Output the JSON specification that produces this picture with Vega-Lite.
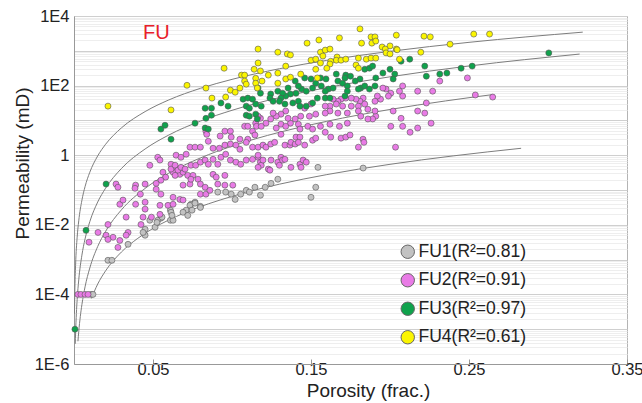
{
  "$schema": "https://vega.github.io/schema/vega-lite/v6.json",
  "width": 553,
  "height": 348,
  "autosize": "none",
  "padding": {"left": 74, "top": 16, "right": 15, "bottom": 39},
  "background": "white",
  "config": {"font": "Liberation Sans", "view": {"stroke": "#b4b4b4", "strokeWidth": 1}},
  "title": {"text": "FU", "color": "#e8202a", "fontSize": 20, "fontWeight": "normal", "anchor": "start", "frame": "group", "baseline": "alphabetic", "offset": -31, "dx": 69, "dy": 20},
  "datasets": {
    "curves": [
      {"fu":"FU1","por":0.011,"perm":7.65e-5},{"fu":"FU1","por":0.015,"perm":1.98e-4},{"fu":"FU1","por":0.02,"perm":4.77e-4},{"fu":"FU1","por":0.03,"perm":1.65e-3},{"fu":"FU1","por":0.04,"perm":3.97e-3},{"fu":"FU1","por":0.05,"perm":7.87e-3},{"fu":"FU1","por":0.07,"perm":0.022},{"fu":"FU1","por":0.1,"perm":0.0656},{"fu":"FU1","por":0.13,"perm":0.147},{"fu":"FU1","por":0.16,"perm":0.277},{"fu":"FU1","por":0.2,"perm":0.547},{"fu":"FU1","por":0.24,"perm":0.955},{"fu":"FU1","por":0.283,"perm":1.58},
      {"fu":"FU2","por":0.0025,"perm":4.5e-6},{"fu":"FU2","por":0.003,"perm":8.51e-6},{"fu":"FU2","por":0.004,"perm":2.33e-5},{"fu":"FU2","por":0.005,"perm":5.08e-5},{"fu":"FU2","por":0.007,"perm":1.65e-4},{"fu":"FU2","por":0.01,"perm":5.75e-4},{"fu":"FU2","por":0.015,"perm":2.38e-3},{"fu":"FU2","por":0.02,"perm":6.5e-3},{"fu":"FU2","por":0.03,"perm":0.0269},{"fu":"FU2","por":0.045,"perm":0.111},{"fu":"FU2","por":0.06,"perm":0.305},{"fu":"FU2","por":0.08,"perm":0.834},{"fu":"FU2","por":0.1,"perm":1.82},{"fu":"FU2","por":0.13,"perm":4.56},{"fu":"FU2","por":0.16,"perm":9.42},{"fu":"FU2","por":0.2,"perm":20.6},{"fu":"FU2","por":0.235,"perm":36.2},{"fu":"FU2","por":0.265,"perm":55.1},
      {"fu":"FU3","por":0.0008,"perm":3.8e-6},{"fu":"FU3","por":0.001,"perm":7.76e-6},{"fu":"FU3","por":0.0015,"perm":2.84e-5},{"fu":"FU3","por":0.002,"perm":7.13e-5},{"fu":"FU3","por":0.003,"perm":2.61e-4},{"fu":"FU3","por":0.005,"perm":1.34e-3},{"fu":"FU3","por":0.007,"perm":3.93e-3},{"fu":"FU3","por":0.01,"perm":0.0123},{"fu":"FU3","por":0.015,"perm":0.0451},{"fu":"FU3","por":0.02,"perm":0.113},{"fu":"FU3","por":0.03,"perm":0.414},{"fu":"FU3","por":0.045,"perm":1.51},{"fu":"FU3","por":0.06,"perm":3.8},{"fu":"FU3","por":0.08,"perm":9.55},{"fu":"FU3","por":0.1,"perm":19.5},{"fu":"FU3","por":0.13,"perm":45.2},{"fu":"FU3","por":0.16,"perm":87.7},{"fu":"FU3","por":0.2,"perm":179},{"fu":"FU3","por":0.25,"perm":366},{"fu":"FU3","por":0.32,"perm":805},
      {"fu":"FU4","por":0.0003,"perm":2.78e-5},{"fu":"FU4","por":0.0005,"perm":1.09e-4},{"fu":"FU4","por":0.001,"perm":6.92e-4},{"fu":"FU4","por":0.002,"perm":4.41e-3},{"fu":"FU4","por":0.003,"perm":0.013},{"fu":"FU4","por":0.005,"perm":0.0508},{"fu":"FU4","por":0.007,"perm":0.125},{"fu":"FU4","por":0.01,"perm":0.324},{"fu":"FU4","por":0.015,"perm":0.955},{"fu":"FU4","por":0.02,"perm":2.06},{"fu":"FU4","por":0.03,"perm":6.08},{"fu":"FU4","por":0.045,"perm":17.9},{"fu":"FU4","por":0.06,"perm":38.7},{"fu":"FU4","por":0.08,"perm":83.4},{"fu":"FU4","por":0.1,"perm":151},{"fu":"FU4","por":0.13,"perm":305},{"fu":"FU4","por":0.16,"perm":531},{"fu":"FU4","por":0.2,"perm":964},{"fu":"FU4","por":0.25,"perm":1750},{"fu":"FU4","por":0.322,"perm":3436}
    ],
    "points": [
      {"fu":"FU1","por":0.091,"perm":0.0871},{"fu":"FU1","por":0.096,"perm":0.0871},{"fu":"FU1","por":0.0995,"perm":0.0759},{"fu":"FU1","por":0.1055,"perm":0.0759},{"fu":"FU1","por":0.109,"perm":0.0977},{"fu":"FU1","por":0.111,"perm":0.0871},{"fu":"FU1","por":0.102,"perm":0.0537},{"fu":"FU1","por":0.0766,"perm":0.0447},{"fu":"FU1","por":0.074,"perm":0.0389},{"fu":"FU1","por":0.0734,"perm":0.0363},{"fu":"FU1","por":0.08,"perm":0.0339},{"fu":"FU1","por":0.071,"perm":0.0263},{"fu":"FU1","por":0.069,"perm":0.0229},{"fu":"FU1","por":0.072,"perm":0.0186},{"fu":"FU1","por":0.061,"perm":0.0263},{"fu":"FU1","por":0.0614,"perm":0.0229},{"fu":"FU1","por":0.055,"perm":0.0155},{"fu":"FU1","por":0.061,"perm":0.0135},{"fu":"FU1","por":0.0627,"perm":0.0135},{"fu":"FU1","por":0.053,"perm":0.0135},{"fu":"FU1","por":0.048,"perm":0.0135},{"fu":"FU1","por":0.0513,"perm":0.00851},{"fu":"FU1","por":0.045,"perm":0.00741},{"fu":"FU1","por":0.045,"perm":0.00501},{"fu":"FU1","por":0.0437,"perm":0.00603},{"fu":"FU1","por":0.0342,"perm":0.00275},{"fu":"FU1","por":0.1145,"perm":0.12},{"fu":"FU1","por":0.1544,"perm":0.447},{"fu":"FU1","por":0.183,"perm":0.427},{"fu":"FU1","por":0.129,"perm":0.204},{"fu":"FU1","por":0.1247,"perm":0.155},{"fu":"FU1","por":0.121,"perm":0.12},{"fu":"FU1","por":0.118,"perm":0.0708},{"fu":"FU1","por":0.153,"perm":0.12},{"fu":"FU1","por":0.15,"perm":0.0617},{"fu":"FU1","por":0.0215,"perm":0.000955},{"fu":"FU1","por":0.024,"perm":0.000955},{"fu":"FU1","por":0.0108,"perm":0.0001},{"fu":"FU1","por":0.012,"perm":0.0001},{"fu":"FU1","por":0.0525,"perm":0.0117},{"fu":"FU1","por":0.0557,"perm":0.0166},{"fu":"FU1","por":0.062,"perm":0.0186},{"fu":"FU1","por":0.0766,"perm":0.0417},{"fu":"FU1","por":0.0747,"perm":0.0263},{"fu":"FU1","por":0.08,"perm":0.0316},
      {"fu":"FU2","por":0.0955,"perm":4.9},{"fu":"FU2","por":0.099,"perm":4.9},{"fu":"FU2","por":0.108,"perm":6.76},{"fu":"FU2","por":0.11,"perm":6.76},{"fu":"FU2","por":0.115,"perm":8.32},{"fu":"FU2","por":0.1155,"perm":6.76},{"fu":"FU2","por":0.113,"perm":4.9},{"fu":"FU2","por":0.0835,"perm":4.9},{"fu":"FU2","por":0.2315,"perm":135},{"fu":"FU2","por":0.2175,"perm":69.2},{"fu":"FU2","por":0.227,"perm":69.2},{"fu":"FU2","por":0.223,"perm":31.6},{"fu":"FU2","por":0.208,"perm":97.7},{"fu":"FU2","por":0.208,"perm":50.1},{"fu":"FU2","por":0.206,"perm":69.2},{"fu":"FU2","por":0.2005,"perm":60.3},{"fu":"FU2","por":0.199,"perm":50.1},{"fu":"FU2","por":0.1975,"perm":79.4},{"fu":"FU2","por":0.1955,"perm":85.1},{"fu":"FU2","por":0.194,"perm":40.7},{"fu":"FU2","por":0.192,"perm":50.1},{"fu":"FU2","por":0.1905,"perm":35.5},{"fu":"FU2","por":0.2175,"perm":18.6},{"fu":"FU2","por":0.222,"perm":16.2},{"fu":"FU2","por":0.202,"perm":18.6},{"fu":"FU2","por":0.207,"perm":11.5},{"fu":"FU2","por":0.208,"perm":6.76},{"fu":"FU2","por":0.226,"perm":8.32},{"fu":"FU2","por":0.191,"perm":13.2},{"fu":"FU2","por":0.1905,"perm":18.6},{"fu":"FU2","por":0.189,"perm":11.0},{"fu":"FU2","por":0.186,"perm":11.0},{"fu":"FU2","por":0.2005,"perm":6.76},{"fu":"FU2","por":0.183,"perm":43.7},{"fu":"FU2","por":0.181,"perm":35.5},{"fu":"FU2","por":0.1785,"perm":40.7},{"fu":"FU2","por":0.1755,"perm":43.7},{"fu":"FU2","por":0.172,"perm":43.7},{"fu":"FU2","por":0.169,"perm":40.7},{"fu":"FU2","por":0.167,"perm":35.5},{"fu":"FU2","por":0.164,"perm":40.7},{"fu":"FU2","por":0.184,"perm":29.5},{"fu":"FU2","por":0.18,"perm":25.7},{"fu":"FU2","por":0.1755,"perm":25.7},{"fu":"FU2","por":0.17,"perm":25.7},{"fu":"FU2","por":0.166,"perm":29.5},{"fu":"FU2","por":0.162,"perm":25.7},{"fu":"FU2","por":0.159,"perm":25.7},{"fu":"FU2","por":0.18,"perm":18.6},{"fu":"FU2","por":0.173,"perm":16.2},{"fu":"FU2","por":0.167,"perm":16.2},{"fu":"FU2","por":0.162,"perm":18.6},{"fu":"FU2","por":0.159,"perm":16.2},{"fu":"FU2","por":0.186,"perm":20.9},{"fu":"FU2","por":0.1815,"perm":13.2},{"fu":"FU2","por":0.15,"perm":29.5},{"fu":"FU2","por":0.146,"perm":22.4},{"fu":"FU2","por":0.153,"perm":15.1},{"fu":"FU2","por":0.149,"perm":13.2},{"fu":"FU2","por":0.173,"perm":8.32},{"fu":"FU2","por":0.162,"perm":7.76},{"fu":"FU2","por":0.168,"perm":6.76},{"fu":"FU2","por":0.1435,"perm":13.2},{"fu":"FU2","por":0.14,"perm":11.0},{"fu":"FU2","por":0.142,"perm":7.76},{"fu":"FU2","por":0.137,"perm":8.32},{"fu":"FU2","por":0.1355,"perm":11.5},{"fu":"FU2","por":0.134,"perm":18.6},{"fu":"FU2","por":0.131,"perm":15.1},{"fu":"FU2","por":0.128,"perm":13.2},{"fu":"FU2","por":0.126,"perm":16.2},{"fu":"FU2","por":0.1245,"perm":11.0},{"fu":"FU2","por":0.1215,"perm":8.32},{"fu":"FU2","por":0.118,"perm":11.5},{"fu":"FU2","por":0.1165,"perm":13.2},{"fu":"FU2","por":0.1185,"perm":6.76},{"fu":"FU2","por":0.131,"perm":7.76},{"fu":"FU2","por":0.134,"perm":6.76},{"fu":"FU2","por":0.128,"perm":6.03},{"fu":"FU2","por":0.148,"perm":6.76},{"fu":"FU2","por":0.151,"perm":5.62},{"fu":"FU2","por":0.156,"perm":6.76},{"fu":"FU2","por":0.143,"perm":5.62},{"fu":"FU2","por":0.2175,"perm":6.03},{"fu":"FU2","por":0.249,"perm":166},{"fu":"FU2","por":0.254,"perm":53.7},{"fu":"FU2","por":0.265,"perm":46.8},
      {"fu":"FU2","por":0.084,"perm":3.98},{"fu":"FU2","por":0.0925,"perm":3.55},{"fu":"FU2","por":0.0995,"perm":3.31},{"fu":"FU2","por":0.105,"perm":2.88},{"fu":"FU2","por":0.11,"perm":2.88},{"fu":"FU2","por":0.1145,"perm":3.8},{"fu":"FU2","por":0.0734,"perm":1.7},{"fu":"FU2","por":0.0766,"perm":1.7},{"fu":"FU2","por":0.08,"perm":1.7},{"fu":"FU2","por":0.085,"perm":2.51},{"fu":"FU2","por":0.088,"perm":1.58},{"fu":"FU2","por":0.092,"perm":1.58},{"fu":"FU2","por":0.0955,"perm":1.95},{"fu":"FU2","por":0.099,"perm":2.09},{"fu":"FU2","por":0.1025,"perm":1.95},{"fu":"FU2","por":0.105,"perm":1.48},{"fu":"FU2","por":0.109,"perm":2.34},{"fu":"FU2","por":0.113,"perm":1.7},{"fu":"FU2","por":0.0646,"perm":1.0},{"fu":"FU2","por":0.0677,"perm":0.871},{"fu":"FU2","por":0.071,"perm":1.07},{"fu":"FU2","por":0.0614,"perm":0.55},{"fu":"FU2","por":0.053,"perm":0.871},{"fu":"FU2","por":0.0544,"perm":0.724},{"fu":"FU2","por":0.048,"perm":0.513},{"fu":"FU2","por":0.0646,"perm":0.398},{"fu":"FU2","por":0.0627,"perm":0.324},{"fu":"FU2","por":0.067,"perm":0.282},{"fu":"FU2","por":0.064,"perm":0.263},{"fu":"FU2","por":0.069,"perm":0.324},{"fu":"FU2","por":0.072,"perm":0.263},{"fu":"FU2","por":0.074,"perm":0.513},{"fu":"FU2","por":0.077,"perm":0.513},{"fu":"FU2","por":0.08,"perm":0.631},{"fu":"FU2","por":0.083,"perm":0.724},{"fu":"FU2","por":0.085,"perm":0.55},{"fu":"FU2","por":0.088,"perm":0.759},{"fu":"FU2","por":0.091,"perm":0.55},{"fu":"FU2","por":0.093,"perm":0.871},{"fu":"FU2","por":0.096,"perm":1.07},{"fu":"FU2","por":0.099,"perm":0.724},{"fu":"FU2","por":0.1025,"perm":0.631},{"fu":"FU2","por":0.1055,"perm":0.55},{"fu":"FU2","por":0.109,"perm":0.724},{"fu":"FU2","por":0.113,"perm":0.759},{"fu":"FU2","por":0.1165,"perm":0.871},{"fu":"FU2","por":0.088,"perm":0.282},{"fu":"FU2","por":0.09,"perm":0.234},{"fu":"FU2","por":0.0955,"perm":0.263},{"fu":"FU2","por":0.1005,"perm":0.138},{"fu":"FU2","por":0.0955,"perm":0.138},{"fu":"FU2","por":0.091,"perm":0.148},{"fu":"FU2","por":0.0753,"perm":0.263},{"fu":"FU2","por":0.0785,"perm":0.204},{"fu":"FU2","por":0.08,"perm":0.148},{"fu":"FU2","por":0.083,"perm":0.12},{"fu":"FU2","por":0.08,"perm":0.0759},{"fu":"FU2","por":0.0835,"perm":0.0759},{"fu":"FU2","por":0.086,"perm":0.0977},{"fu":"FU2","por":0.069,"perm":0.138},{"fu":"FU2","por":0.0734,"perm":0.148},{"fu":"FU2","por":0.074,"perm":0.204},{"fu":"FU2","por":0.0563,"perm":0.324},{"fu":"FU2","por":0.058,"perm":0.234},{"fu":"FU2","por":0.055,"perm":0.191},{"fu":"FU2","por":0.052,"perm":0.155},{"fu":"FU2","por":0.045,"perm":0.148},{"fu":"FU2","por":0.039,"perm":0.138},{"fu":"FU2","por":0.042,"perm":0.0759},{"fu":"FU2","por":0.0266,"perm":0.148},{"fu":"FU2","por":0.0278,"perm":0.12},{"fu":"FU2","por":0.052,"perm":0.105},{"fu":"FU2","por":0.055,"perm":0.0759},{"fu":"FU2","por":0.0627,"perm":0.0617},{"fu":"FU2","por":0.067,"perm":0.0537},{"fu":"FU2","por":0.069,"perm":0.0513},{"fu":"FU2","por":0.029,"perm":0.0389},{"fu":"FU2","por":0.031,"perm":0.0513},{"fu":"FU2","por":0.039,"perm":0.0389},{"fu":"FU2","por":0.045,"perm":0.0447},{"fu":"FU2","por":0.045,"perm":0.0282},{"fu":"FU2","por":0.0544,"perm":0.0363},{"fu":"FU2","por":0.0595,"perm":0.0363},{"fu":"FU2","por":0.0627,"perm":0.0389},{"fu":"FU2","por":0.049,"perm":0.0166},{"fu":"FU2","por":0.0544,"perm":0.02},{"fu":"FU2","por":0.033,"perm":0.0166},{"fu":"FU2","por":0.0437,"perm":0.0166},{"fu":"FU2","por":0.0215,"perm":0.0102},{"fu":"FU2","por":0.0152,"perm":0.00603},{"fu":"FU2","por":0.0424,"perm":0.0102},{"fu":"FU2","por":0.0342,"perm":0.00603},{"fu":"FU2","por":0.033,"perm":0.00501},{"fu":"FU2","por":0.0203,"perm":0.00501},{"fu":"FU2","por":0.0247,"perm":0.00437},{"fu":"FU2","por":0.029,"perm":0.00355},{"fu":"FU2","por":0.0215,"perm":0.0038},{"fu":"FU2","por":0.0095,"perm":0.00316},{"fu":"FU2","por":0.0278,"perm":0.00224},{"fu":"FU2","por":0.0614,"perm":0.398},{"fu":"FU2","por":0.064,"perm":0.513},{"fu":"FU2","por":0.0658,"perm":0.372},{"fu":"FU2","por":0.0677,"perm":0.447},{"fu":"FU2","por":0.0703,"perm":0.398},
      {"fu":"FU2","por":0.1165,"perm":1.7},{"fu":"FU2","por":0.1196,"perm":1.95},{"fu":"FU2","por":0.1215,"perm":1.7},{"fu":"FU2","por":0.1245,"perm":2.09},{"fu":"FU2","por":0.127,"perm":2.34},{"fu":"FU2","por":0.131,"perm":3.98},{"fu":"FU2","por":0.1335,"perm":1.95},{"fu":"FU2","por":0.1367,"perm":1.95},{"fu":"FU2","por":0.1373,"perm":2.34},{"fu":"FU2","por":0.14,"perm":2.09},{"fu":"FU2","por":0.1405,"perm":3.31},{"fu":"FU2","por":0.143,"perm":3.31},{"fu":"FU2","por":0.142,"perm":2.34},{"fu":"FU2","por":0.146,"perm":1.95},{"fu":"FU2","por":0.151,"perm":2.69},{"fu":"FU2","por":0.153,"perm":3.09},{"fu":"FU2","por":0.159,"perm":4.57},{"fu":"FU2","por":0.1625,"perm":3.31},{"fu":"FU2","por":0.169,"perm":3.09},{"fu":"FU2","por":0.172,"perm":3.31},{"fu":"FU2","por":0.1747,"perm":3.8},{"fu":"FU2","por":0.18,"perm":1.7},{"fu":"FU2","por":0.1829,"perm":2.88},{"fu":"FU2","por":0.1835,"perm":2.34},{"fu":"FU2","por":0.2035,"perm":1.7},{"fu":"FU2","por":0.2127,"perm":4.57},{"fu":"FU2","por":0.1165,"perm":1.0},{"fu":"FU2","por":0.118,"perm":0.631},{"fu":"FU2","por":0.1185,"perm":0.513},{"fu":"FU2","por":0.1196,"perm":0.724},{"fu":"FU2","por":0.1165,"perm":0.447},{"fu":"FU2","por":0.123,"perm":0.398},{"fu":"FU2","por":0.1247,"perm":0.724},{"fu":"FU2","por":0.129,"perm":0.631},{"fu":"FU2","por":0.13,"perm":0.513},{"fu":"FU2","por":0.131,"perm":0.871},{"fu":"FU2","por":0.132,"perm":0.724},{"fu":"FU2","por":0.1335,"perm":0.759},{"fu":"FU2","por":0.1373,"perm":0.447},{"fu":"FU2","por":0.143,"perm":0.55},{"fu":"FU2","por":0.1437,"perm":0.447},{"fu":"FU2","por":0.145,"perm":0.724},{"fu":"FU2","por":0.147,"perm":0.631},{"fu":"FU2","por":0.124,"perm":0.372},{"fu":"FU2","por":0.0025,"perm":0.0001},{"fu":"FU2","por":0.0044,"perm":0.0001},{"fu":"FU2","por":0.007,"perm":0.0001},{"fu":"FU2","por":0.0089,"perm":0.0001},{"fu":"FU2","por":0.0386,"perm":0.112},
      {"fu":"FU3","por":0.083,"perm":22.4},{"fu":"FU3","por":0.087,"perm":22.4},{"fu":"FU3","por":0.087,"perm":14.1},{"fu":"FU3","por":0.0835,"perm":11.5},{"fu":"FU3","por":0.093,"perm":31.6},{"fu":"FU3","por":0.0975,"perm":25.7},{"fu":"FU3","por":0.0766,"perm":8.32},{"fu":"FU3","por":0.0576,"perm":7.24},{"fu":"FU3","por":0.055,"perm":5.62},{"fu":"FU3","por":0.083,"perm":6.03},{"fu":"FU3","por":0.085,"perm":5.62},{"fu":"FU3","por":0.107,"perm":40.7},{"fu":"FU3","por":0.11,"perm":43.7},{"fu":"FU3","por":0.113,"perm":40.7},{"fu":"FU3","por":0.109,"perm":25.7},{"fu":"FU3","por":0.111,"perm":22.4},{"fu":"FU3","por":0.115,"perm":29.5},{"fu":"FU3","por":0.109,"perm":14.1},{"fu":"FU3","por":0.111,"perm":13.2},{"fu":"FU3","por":0.115,"perm":15.1},{"fu":"FU3","por":0.116,"perm":11.0},{"fu":"FU3","por":0.2125,"perm":575},{"fu":"FU3","por":0.207,"perm":501},{"fu":"FU3","por":0.2,"perm":295},{"fu":"FU3","por":0.203,"perm":214},{"fu":"FU3","por":0.202,"perm":155},{"fu":"FU3","por":0.1955,"perm":229},{"fu":"FU3","por":0.191,"perm":166},{"fu":"FU3","por":0.1905,"perm":97.7},{"fu":"FU3","por":0.184,"perm":295},{"fu":"FU3","por":0.187,"perm":316},{"fu":"FU3","por":0.189,"perm":363},{"fu":"FU3","por":0.181,"perm":155},{"fu":"FU3","por":0.1815,"perm":85.1},{"fu":"FU3","por":0.172,"perm":200},{"fu":"FU3","por":0.1715,"perm":166},{"fu":"FU3","por":0.175,"perm":186},{"fu":"FU3","por":0.178,"perm":135},{"fu":"FU3","por":0.166,"perm":214},{"fu":"FU3","por":0.167,"perm":135},{"fu":"FU3","por":0.17,"perm":117},{"fu":"FU3","por":0.173,"perm":97.7},{"fu":"FU3","por":0.1595,"perm":155},{"fu":"FU3","por":0.161,"perm":79.4},{"fu":"FU3","por":0.164,"perm":85.1},{"fu":"FU3","por":0.156,"perm":166},{"fu":"FU3","por":0.1565,"perm":97.7},{"fu":"FU3","por":0.159,"perm":69.2},{"fu":"FU3","por":0.15,"perm":155},{"fu":"FU3","por":0.151,"perm":85.1},{"fu":"FU3","por":0.153,"perm":117},{"fu":"FU3","por":0.146,"perm":166},{"fu":"FU3","por":0.144,"perm":79.4},{"fu":"FU3","por":0.147,"perm":69.2},{"fu":"FU3","por":0.14,"perm":135},{"fu":"FU3","por":0.142,"perm":97.7},{"fu":"FU3","por":0.1405,"perm":60.3},{"fu":"FU3","por":0.1355,"perm":85.1},{"fu":"FU3","por":0.137,"perm":57.5},{"fu":"FU3","por":0.134,"perm":50.1},{"fu":"FU3","por":0.129,"perm":69.2},{"fu":"FU3","por":0.132,"perm":60.3},{"fu":"FU3","por":0.131,"perm":43.7},{"fu":"FU3","por":0.1245,"perm":57.5},{"fu":"FU3","por":0.124,"perm":43.7},{"fu":"FU3","por":0.126,"perm":35.5},{"fu":"FU3","por":0.1165,"perm":85.1},{"fu":"FU3","por":0.118,"perm":60.3},{"fu":"FU3","por":0.1185,"perm":25.7},{"fu":"FU3","por":0.13,"perm":35.5},{"fu":"FU3","por":0.1335,"perm":29.5},{"fu":"FU3","por":0.1385,"perm":31.6},{"fu":"FU3","por":0.142,"perm":35.5},{"fu":"FU3","por":0.143,"perm":25.7},{"fu":"FU3","por":0.154,"perm":43.7},{"fu":"FU3","por":0.159,"perm":43.7},{"fu":"FU3","por":0.162,"perm":43.7},{"fu":"FU3","por":0.1715,"perm":50.1},{"fu":"FU3","por":0.173,"perm":69.2},{"fu":"FU3","por":0.151,"perm":31.6},{"fu":"FU3","por":0.147,"perm":25.7},{"fu":"FU3","por":0.18,"perm":79.4},{"fu":"FU3","por":0.184,"perm":97.7},{"fu":"FU3","por":0.187,"perm":79.4},{"fu":"FU3","por":0.223,"perm":186},{"fu":"FU3","por":0.222,"perm":363},{"fu":"FU3","por":0.2315,"perm":214},{"fu":"FU3","por":0.3005,"perm":871},{"fu":"FU3","por":0.252,"perm":363},{"fu":"FU3","por":0.245,"perm":316},{"fu":"FU3","por":0.236,"perm":229},{"fu":"FU3","por":0.0614,"perm":2.88},{"fu":"FU3","por":0.0203,"perm":0.148},{"fu":"FU3","por":0.0076,"perm":0.00692},{"fu":"FU3","por":0.0006,"perm":0.00001},
      {"fu":"FU4","por":0.0215,"perm":25.7},{"fu":"FU4","por":0.0614,"perm":20.0},{"fu":"FU4","por":0.0715,"perm":102},{"fu":"FU4","por":0.0835,"perm":85.1},{"fu":"FU4","por":0.0873,"perm":43.7},{"fu":"FU4","por":0.095,"perm":316},{"fu":"FU4","por":0.096,"perm":46.8},{"fu":"FU4","por":0.099,"perm":74.1},{"fu":"FU4","por":0.102,"perm":64.6},{"fu":"FU4","por":0.105,"perm":85.1},{"fu":"FU4","por":0.106,"perm":200},{"fu":"FU4","por":0.108,"perm":200},{"fu":"FU4","por":0.108,"perm":135},{"fu":"FU4","por":0.109,"perm":110},{"fu":"FU4","por":0.115,"perm":162},{"fu":"FU4","por":0.115,"perm":117},{"fu":"FU4","por":0.116,"perm":85},{"fu":"FU4","por":0.114,"perm":295},{"fu":"FU4","por":0.1165,"perm":1122},{"fu":"FU4","por":0.1165,"perm":447},{"fu":"FU4","por":0.181,"perm":4266},{"fu":"FU4","por":0.204,"perm":2818},{"fu":"FU4","por":0.2215,"perm":2630},{"fu":"FU4","por":0.2255,"perm":2512},{"fu":"FU4","por":0.188,"perm":2512},{"fu":"FU4","por":0.1905,"perm":2512},{"fu":"FU4","por":0.155,"perm":2042},{"fu":"FU4","por":0.168,"perm":2344},{"fu":"FU4","por":0.1475,"perm":1660},{"fu":"FU4","por":0.182,"perm":1660},{"fu":"FU4","por":0.1885,"perm":1660},{"fu":"FU4","por":0.191,"perm":1905},{"fu":"FU4","por":0.195,"perm":1288},{"fu":"FU4","por":0.2,"perm":1380},{"fu":"FU4","por":0.197,"perm":1122},{"fu":"FU4","por":0.204,"perm":1122},{"fu":"FU4","por":0.2045,"perm":1072},{"fu":"FU4","por":0.2195,"perm":912},{"fu":"FU4","por":0.129,"perm":912},{"fu":"FU4","por":0.135,"perm":813},{"fu":"FU4","por":0.137,"perm":759},{"fu":"FU4","por":0.156,"perm":912},{"fu":"FU4","por":0.159,"perm":1047},{"fu":"FU4","por":0.162,"perm":1122},{"fu":"FU4","por":0.1575,"perm":708},{"fu":"FU4","por":0.1665,"perm":661},{"fu":"FU4","por":0.166,"perm":537},{"fu":"FU4","por":0.169,"perm":537},{"fu":"FU4","por":0.172,"perm":575},{"fu":"FU4","por":0.18,"perm":617},{"fu":"FU4","por":0.185,"perm":575},{"fu":"FU4","por":0.188,"perm":617},{"fu":"FU4","por":0.191,"perm":617},{"fu":"FU4","por":0.1975,"perm":871},{"fu":"FU4","por":0.2,"perm":813},{"fu":"FU4","por":0.206,"perm":575},{"fu":"FU4","por":0.15,"perm":537},{"fu":"FU4","por":0.153,"perm":575},{"fu":"FU4","por":0.156,"perm":447},{"fu":"FU4","por":0.1625,"perm":501},{"fu":"FU4","por":0.162,"perm":417},{"fu":"FU4","por":0.16,"perm":316},{"fu":"FU4","por":0.1785,"perm":389},{"fu":"FU4","por":0.18,"perm":316},{"fu":"FU4","por":0.134,"perm":363},{"fu":"FU4","por":0.118,"perm":263},{"fu":"FU4","por":0.123,"perm":200},{"fu":"FU4","por":0.129,"perm":229},{"fu":"FU4","por":0.134,"perm":155},{"fu":"FU4","por":0.137,"perm":174},{"fu":"FU4","por":0.1435,"perm":214},{"fu":"FU4","por":0.153,"perm":295},{"fu":"FU4","por":0.154,"perm":166},{"fu":"FU4","por":0.119,"perm":135},{"fu":"FU4","por":0.129,"perm":117},{"fu":"FU4","por":0.253,"perm":3020},{"fu":"FU4","por":0.263,"perm":3020},{"fu":"FU4","por":0.238,"perm":1549}
    ]
  },
  "encoding": {
    "x": {
      "field": "por", "type": "quantitative",
      "scale": {"domain": [0, 0.35], "nice": false, "zero": false},
      "axis": {
        "values": [0.05, 0.15, 0.25, 0.35], "format": ".2f", "grid": false,
        "title": "Porosity (frac.)", "titleFontSize": 19, "titleFontWeight": "normal", "titleColor": "#222",
        "titleX": 294, "titleY": 32, "titleAlign": "center", "titleBaseline": "alphabetic",
        "labelFontSize": 16.5, "labelColor": "#222", "labelPadding": 2, "labelFlush": false, "labelOverlap": false,
        "domainColor": "#999", "tickColor": "#999", "tickSize": -5
      }
    },
    "y": {
      "field": "perm", "type": "quantitative",
      "scale": {"type": "log", "domain": [1e-6, 10000], "nice": false},
      "axis": {
        "values": [1e-6,2e-6,3e-6,4e-6,5e-6,6e-6,7e-6,8e-6,9e-6,1e-5,2e-5,3e-5,4e-5,5e-5,6e-5,7e-5,8e-5,9e-5,1e-4,2e-4,3e-4,4e-4,5e-4,6e-4,7e-4,8e-4,9e-4,0.001,0.002,0.003,0.004,0.005,0.006,0.007,0.008,0.009,0.01,0.02,0.03,0.04,0.05,0.06,0.07,0.08,0.09,0.1,0.2,0.3,0.4,0.5,0.6,0.7,0.8,0.9,1,2,3,4,5,6,7,8,9,10,20,30,40,50,60,70,80,90,100,200,300,400,500,600,700,800,900,1000,2000,3000,4000,5000,6000,7000,8000,9000,10000],
        "labelExpr": "abs(log(datum.value)/LN10 - round(log(datum.value)/LN10)) > 0.01 || round(log(datum.value)/LN10) % 2 != 0 ? '' : (round(log(datum.value)/LN10) == 0 ? '1' : '1E' + round(log(datum.value)/LN10))",
        "labelOverlap": false, "labelFontSize": 16.5, "labelColor": "#222", "labelPadding": 5,
        "ticks": false, "grid": true,
        "gridColor": {"condition": {"test": "abs(log(datum.value)/LN10 - round(log(datum.value)/LN10)) < 0.01", "value": "#cfcfcf"}, "value": "#eeeeee"},
        "domainColor": "#999",
        "title": "Permeability (mD)", "titleFontSize": 19, "titleFontWeight": "normal", "titleColor": "#222",
        "titleX": -52, "titleY": 147, "titleAlign": "center", "titleBaseline": "middle", "titleAngle": -90
      }
    }
  },
  "layer": [
    {
      "data": {"name": "curves"},
      "mark": {"type": "line", "interpolate": "monotone", "stroke": "#7d7d7d", "strokeWidth": 1, "clip": true},
      "encoding": {"detail": {"field": "fu", "type": "nominal"}}
    },
    {
      "data": {"name": "points"},
      "mark": {"type": "circle", "size": 36, "opacity": 1, "stroke": "#555555", "strokeWidth": 0.6},
      "encoding": {
        "fill": {
          "field": "fu", "type": "nominal",
          "scale": {"domain": ["FU1", "FU2", "FU3", "FU4"], "range": ["#c2c2c2", "#e97be6", "#0fa24c", "#fbf500"]},
          "legend": {
            "title": null, "orient": "none", "legendX": 325, "legendY": 227,
            "symbolType": "circle", "symbolSize": 180, "symbolStrokeColor": "#666666", "symbolStrokeWidth": 1,
            "labelFontSize": 17.5, "labelColor": "#222", "labelOffset": 2, "rowPadding": 9.5,
            "labelExpr": "datum.label == 'FU1' ? 'FU1(R²=0.81)' : datum.label == 'FU2' ? 'FU2(R²=0.91)' : datum.label == 'FU3' ? 'FU3(R²=0.97)' : 'FU4(R²=0.61)'"
          }
        }
      }
    }
  ]
}
